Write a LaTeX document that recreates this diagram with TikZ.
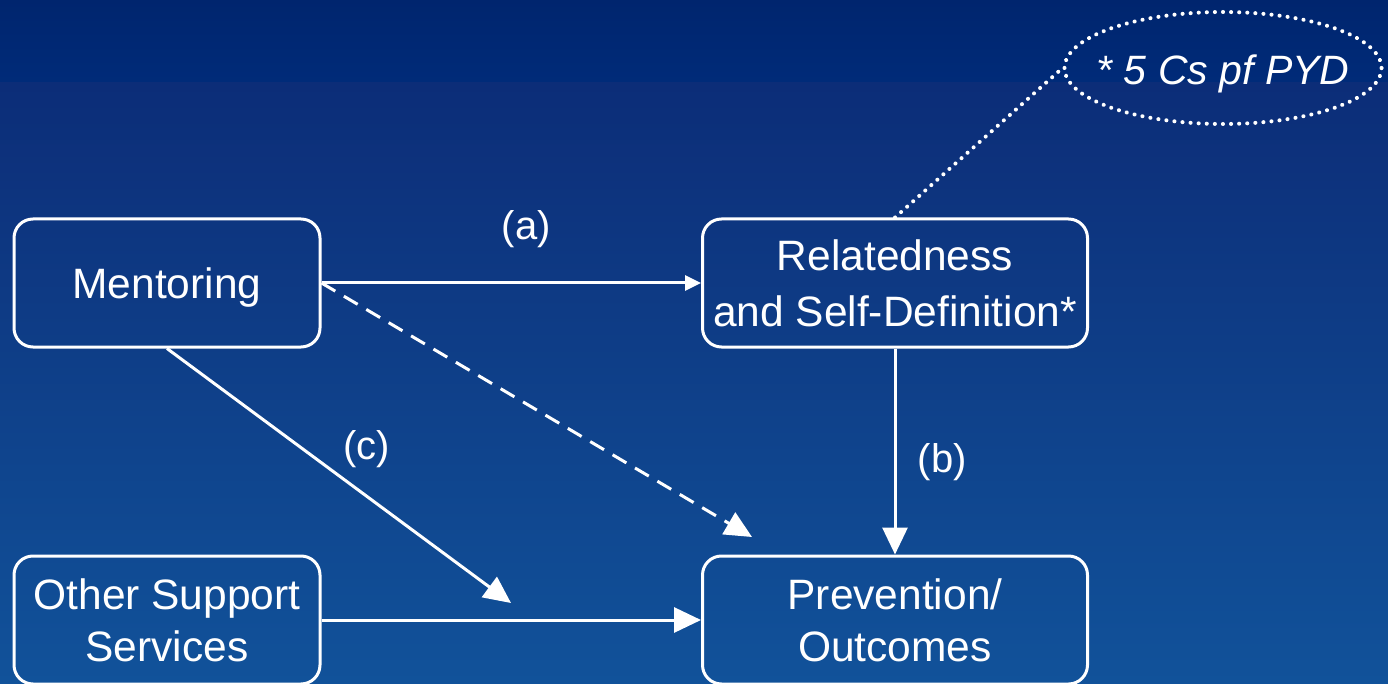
\documentclass[tikz,border=0pt]{standalone}
\usepackage{fontspec}
\setmainfont{Liberation Sans}
\usetikzlibrary{arrows.meta,positioning,shapes.geometric}
\definecolor{bandtop}{RGB}{0,37,110}
\definecolor{bandlow}{RGB}{0,43,121}
\definecolor{bgtop}{RGB}{12,45,120}
\definecolor{bgbot}{RGB}{17,82,154}
\tikzset{
  box/.style={draw=white,line width=3pt,rounded corners=19pt,text=white,align=center,
    minimum width=306pt,minimum height=128pt,font=\fontsize{42.5}{52}\selectfont},
  wide/.style={box,minimum width=385pt},
  arr/.style={draw=white,line width=3pt,-{Triangle[length=27pt,width=25pt]}},
  lbl/.style={text=white,font=\fontsize{40}{48}\selectfont},
  dots/.style={white,line width=4pt,dash pattern=on 0.1pt off 8pt,line cap=round}
}
\begin{document}
\begin{tikzpicture}[x=1pt,y=-1pt,on grid,node distance=337pt and 728pt]
              \useasboundingbox (0,0) rectangle (1388,684);
              \shade[top color=bandtop,bottom color=bandlow] (0,0) rectangle (1388,83);
              \shade[top color=bgtop,bottom color=bgbot] (0,83) rectangle (1388,684);
              \node[box](mentor) at (167,283){\raisebox{-5pt}[\height][\depth]{Mentoring}};
              \node[wide](rel)[right=of mentor]{Relatedness\\[4pt]and Self-Definition*};
              \node[box](other)[below=of mentor]{Other Support\\Services};
              \node[wide](prev)[right=of other]{Prevention/\\Outcomes};
              \node[ellipse,draw,dots,minimum width=317pt,minimum height=112pt,
                inner xsep=-18pt,inner ysep=0pt,text=white,
                font=\fontsize{41}{48}\selectfont\itshape](note) at (1223,68){\raisebox{-6pt}[\height][\depth]{* 5 Cs pf PYD}};
              \coordinate (dashend) at (752,537);
              \coordinate (cend) at (511,603);
              \draw[dots] (rel.north) -- (note.west);
              \draw[arr,-{Triangle[length=16pt,width=15pt]}] (mentor) -- node[lbl,pos=0.54,above=30pt](la){(a)} (rel);
              \draw[arr,dash pattern=on 16pt off 10pt] (mentor.east) -- (dashend);
              \draw[arr] (mentor.south) -- node[lbl,pos=0.58,above=23pt](lc){(c)} (cend);
              \draw[arr] (rel) -- node[lbl,pos=0.55,right=18pt](lb){(b)} (prev);
              \draw[arr] (other) -- (prev);
          \end{tikzpicture}
\end{document}
